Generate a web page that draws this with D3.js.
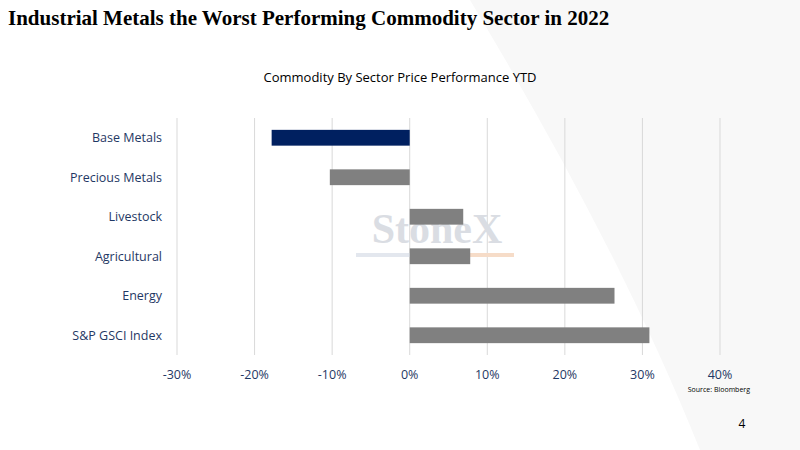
<!DOCTYPE html>
<html><head><meta charset="utf-8">
<script src="https://cdn.jsdelivr.net/npm/d3@7"></script>
<style>body{margin:0;background:#fff}</style>
</head><body>
<svg id="c" width="800" height="450"></svg>
<script>
var categories = ['Base Metals', 'Precious Metals', 'Livestock', 'Agricultural', 'Energy', 'S&P GSCI Index'];
var values = [-17.8, -10.3, 6.9, 7.8, 26.4, 30.9];
var ticks = [-30, -20, -10, 0, 10, 20, 30, 40];

var svg = d3.select('#c');

// faint background decoration
svg.append('path').attr('d', 'M470,0 L800,0 L800,450 L700,450 C640,300 560,150 470,0 Z')
  .attr('fill', '#f8f8f8');

svg.append('text').attr('x', 8).attr('y', 25)
  .attr('font-family', 'Liberation Serif, serif').attr('font-weight', 'bold')
  .attr('font-size', 21).attr('fill', '#000')
  .text('Industrial Metals the Worst Performing Commodity Sector in 2022');

svg.append('text').attr('x', 400).attr('y', 82).attr('text-anchor', 'middle')
  .attr('font-family', 'Open Sans, sans-serif').attr('font-size', 13).attr('fill', '#000')
  .text('Commodity By Sector Price Performance YTD');

var x = d3.scaleLinear().domain([-30, 40]).range([177, 720]);
var y = d3.scaleBand().domain(categories).range([118, 355]).paddingInner(0.6).paddingOuter(0.3);

svg.append('g').selectAll('line').data(ticks).enter().append('line')
  .attr('x1', x).attr('x2', x).attr('y1', 118).attr('y2', 355)
  .attr('stroke', '#d9d9d9');

// watermark
svg.append('text').attr('x', 437).attr('y', 243).attr('text-anchor', 'middle')
  .attr('font-family', 'Liberation Serif, serif').attr('font-weight', 'bold').attr('font-size', 42)
  .attr('fill', '#dadde3').text('StoneX');
svg.append('rect').attr('x', 356).attr('y', 253).attr('width', 110).attr('height', 4).attr('fill', '#e3e7ee');
svg.append('rect').attr('x', 466).attr('y', 253).attr('width', 48).attr('height', 4).attr('fill', '#f6dcc8');

svg.append('g').selectAll('rect').data(values).enter().append('rect')
  .attr('x', function (d) { return x(Math.min(0, d)); })
  .attr('width', function (d) { return Math.abs(x(d) - x(0)); })
  .attr('y', function (d, i) { return y(categories[i]); })
  .attr('height', y.bandwidth())
  .attr('fill', function (d, i) { return i === 0 ? '#002060' : '#808080'; });

svg.append('g').selectAll('text').data(categories).enter().append('text')
  .attr('x', 162).attr('y', function (d) { return y(d) + y.bandwidth() / 2 + 4.5; })
  .attr('text-anchor', 'end').attr('font-family', 'Open Sans, sans-serif')
  .attr('font-size', 12.5).attr('fill', '#1f3864').text(function (d) { return d; });

svg.append('g').selectAll('text').data(ticks).enter().append('text')
  .attr('x', x).attr('y', 379).attr('text-anchor', 'middle')
  .attr('font-family', 'Open Sans, sans-serif').attr('font-size', 12.5).attr('fill', '#1f3864')
  .text(function (d) { return d + '%'; });

svg.append('text').attr('x', 750).attr('y', 392).attr('text-anchor', 'end')
  .attr('font-family', 'Open Sans, sans-serif').attr('font-size', 7).attr('fill', '#000')
  .text('Source: Bloomberg');
svg.append('text').attr('x', 742).attr('y', 428).attr('text-anchor', 'middle')
  .attr('font-family', 'Open Sans, sans-serif').attr('font-size', 12).attr('fill', '#000')
  .text('4');
</script>
</body></html>
